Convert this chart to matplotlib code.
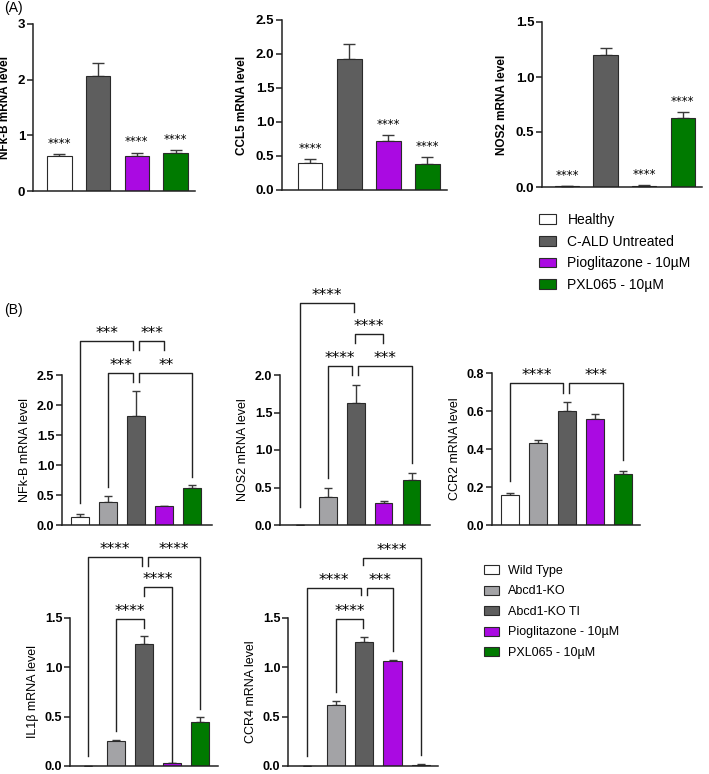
import matplotlib
matplotlib.use("Agg")
import matplotlib.pyplot as plt
from matplotlib.patches import Patch

plt.rcParams['font.family'] = ['Liberation Sans', 'DejaVu Sans']

# ---- data, panel A (human cells) ----
a_groups = ['Healthy', 'C-ALD Untreated', 'Pioglitazone - 10µM', 'PXL065 - 10µM']
a_colors = ['#ffffff', '#5e5e5e', '#aa0ae2', '#007a00']
a_nfkb = [0.63, 2.06, 0.63, 0.69]
a_nfkb_err = [0.04, 0.24, 0.06, 0.04]
a_ccl5 = [0.39, 1.93, 0.72, 0.38]
a_ccl5_err = [0.07, 0.21, 0.09, 0.10]
a_nos2 = [0.005, 1.20, 0.012, 0.63]
a_nos2_err = [0.004, 0.06, 0.006, 0.05]
a_stars = ['****', '', '****', '****']

# ---- data, panel B (mouse) ----
b_groups = ['Wild Type', 'Abcd1-KO', 'Abcd1-KO TI', 'Pioglitazone - 10µM', 'PXL065 - 10µM']
b_colors = ['#ffffff', '#a3a3a6', '#5e5e5e', '#aa0ae2', '#007a00']
b_nfkb = [0.13, 0.38, 1.81, 0.31, 0.62]
b_nfkb_err = [0.06, 0.10, 0.42, 0.01, 0.05]
b_nos2 = [0.0, 0.38, 1.63, 0.30, 0.60]
b_nos2_err = [0.0, 0.11, 0.24, 0.02, 0.09]
b_ccr2 = [0.16, 0.43, 0.60, 0.56, 0.27]
b_ccr2_err = [0.01, 0.02, 0.045, 0.025, 0.012]
b_il1b = [0.0, 0.25, 1.24, 0.03, 0.45]
b_il1b_err = [0.0, 0.01, 0.08, 0.005, 0.05]
b_ccr4 = [0.0, 0.62, 1.26, 1.06, 0.015]
b_ccr4_err = [0.0, 0.04, 0.05, 0.015, 0.005]

W, H = 709, 774
fig = plt.figure(figsize=(W / 100, H / 100), dpi=100)
STAR_FONT = ['DejaVu Sans']


def axes_px(l, t, r, b):
    return fig.add_axes([l / W, 1 - b / H, (r - l) / W, (b - t) / H])


def style(ax, ylim, ticks, fmt, fs, label, lfs, lweight, lpad_px, xlim):
    for s in ['top', 'right']:
        ax.spines[s].set_visible(False)
    for s in ['left', 'bottom']:
        ax.spines[s].set_linewidth(1.1)
        ax.spines[s].set_color('#222222')
    ax.set_ylim(*ylim)
    ax.set_xlim(*xlim)
    ax.set_yticks(ticks)
    ax.set_yticklabels([fmt.format(t) for t in ticks], fontsize=fs, fontweight='bold')
    ax.set_xticks([])
    ax.tick_params(axis='y', length=4, width=1.1, pad=1.5, color='#222222')
    ax.set_ylabel(label, fontsize=lfs, fontweight=lweight)
    w_px = ax.get_position().width * W
    ax.yaxis.set_label_coords(-lpad_px / w_px, 0.5)


def bars(ax, vals, errs, colors, width, capsize):
    x = range(len(vals))
    ax.bar(x, vals, width=width, color=colors, edgecolor='#2a2a2a', linewidth=0.8, zorder=2)
    ax.errorbar(x, vals, yerr=[[0] * len(errs), errs], fmt='none', ecolor='#3a3a3a',
                elinewidth=1.0, capsize=capsize, capthick=1.0, zorder=1)


def bracket(ax, x1, x2, y, b1, b2, label):
    ax.plot([x1, x1, x2, x2], [b1, y, y, b2], color='#222222', lw=1.0, clip_on=False)
    ax.text((x1 + x2) / 2, y, label, ha='center', va='bottom', fontsize=11,
            family=STAR_FONT, clip_on=False)


# ---- panel A ----
a_specs = [
    ((33, 24, 195, 191), a_nfkb, a_nfkb_err, (0, 3), [0, 1, 2, 3], '{:g}', 'NFk-B mRNA level', 22, (-0.68, 3.5)),
    ((282, 20, 447, 190), a_ccl5, a_ccl5_err, (0, 2.5), [0, 0.5, 1.0, 1.5, 2.0, 2.5], '{:.1f}', 'CCL5 mRNA level', 34, (-0.72, 3.5)),
    ((542, 22, 702, 187), a_nos2, a_nos2_err, (0, 1.5), [0, 0.5, 1.0, 1.5], '{:.1f}', 'NOS2 mRNA level', 34, (-0.65, 3.5)),
]
for box, vals, errs, ylim, ticks, fmt, label, lpad, xlim in a_specs:
    ax = axes_px(*box)
    bars(ax, vals, errs, a_colors, 0.63, 4.5)
    style(ax, ylim, ticks, fmt, 9.5, label, 8.5, 'bold', lpad, xlim)
    for i, s in enumerate(a_stars):
        if s:
            ax.annotate(s, (i, vals[i] + errs[i]), xytext=(0, 3), textcoords='offset points',
                        ha='center', va='bottom', fontsize=8.5, family=STAR_FONT)

fig.text(4 / W, 1 - 8 / H, '(A)', fontsize=10, va='center', ha='left')
fig.text(4 / W, 1 - 310 / H, '(B)', fontsize=10, va='center', ha='left')

fig.legend(handles=[Patch(facecolor=c, edgecolor='#2a2a2a', linewidth=0.8) for c in a_colors],
           labels=a_groups, loc='upper left', bbox_to_anchor=(539 / W, 1 - 213 / H),
           frameon=False, fontsize=10, handlelength=1.25, handletextpad=0.8,
           labelspacing=0.55, borderpad=0, borderaxespad=0)

# ---- panel B ----
b_specs = [
    ((62, 375, 212, 525), b_nfkb, b_nfkb_err, (0, 2.5), [0, 0.5, 1.0, 1.5, 2.0, 2.5], 'NFk-B mRNA level', (-0.64, 4.7),
     [(0, 1.89, 3.07, 0.37, 2.92, '***'), (2.11, 3.0, 3.07, 2.92, 2.92, '***'),
      (1.0, 1.89, 2.53, 0.63, 2.38, '***'), (2.11, 4.0, 2.53, 2.38, 0.8, '**')]),
    ((280, 375, 430, 525), b_nos2, b_nos2_err, (0, 2.0), [0, 0.5, 1.0, 1.5, 2.0], 'NOS2 mRNA level', (-0.7, 4.66),
     [(0, 1.95, 2.96, 0.24, 2.84, '****'), (1.98, 2.98, 2.55, 2.43, 2.43, '****'),
      (1.0, 1.88, 2.12, 0.63, 2.0, '****'), (2.09, 4.0, 2.12, 2.0, 0.83, '***')]),
    ((492, 373, 640, 525), b_ccr2, b_ccr2_err, (0, 0.8), [0, 0.2, 0.4, 0.6, 0.8], 'CCR2 mRNA level', (-0.64, 4.6),
     [(0, 1.89, 0.747, 0.23, 0.695, '****'), (2.1, 4.0, 0.747, 0.695, 0.34, '***')]),
    ((70, 618, 218, 766), b_il1b, b_il1b_err, (0, 1.5), [0, 0.5, 1.0, 1.5], 'IL1β mRNA level', (-0.66, 4.64),
     [(0, 1.91, 2.12, 0.1, 2.03, '****'), (2.12, 4.0, 2.12, 2.03, 0.58, '****'),
      (1.98, 2.98, 1.81, 1.72, 0.04, '****'), (1.0, 1.98, 1.49, 0.35, 1.4, '****')]),
    ((288, 618, 438, 766), b_ccr4, b_ccr4_err, (0, 1.5), [0, 0.5, 1.0, 1.5], 'CCR4 mRNA level', (-0.68, 4.6),
     [(1.96, 4.0, 2.11, 2.04, 0.11, '****'), (0, 1.89, 1.8, 0.1, 1.73, '****'),
      (2.1, 3.0, 1.8, 1.73, 1.17, '***'), (1.0, 1.96, 1.49, 0.75, 1.4, '****')]),
]
for box, vals, errs, ylim, ticks, label, xlim, brs in b_specs:
    ax = axes_px(*box)
    bars(ax, vals, errs, b_colors, 0.64, 3)
    style(ax, ylim, ticks, '{:.1f}', 9, label, 9, 'normal', 31, xlim)
    for br in brs:
        bracket(ax, *br)

fig.legend(handles=[Patch(facecolor=c, edgecolor='#2a2a2a', linewidth=0.8) for c in b_colors],
           labels=b_groups, loc='upper left', bbox_to_anchor=(484 / W, 1 - 565 / H),
           frameon=False, fontsize=9, handlelength=1.2, handletextpad=0.72,
           labelspacing=0.68, borderpad=0, borderaxespad=0)

fig.savefig('out.png', dpi=100)
